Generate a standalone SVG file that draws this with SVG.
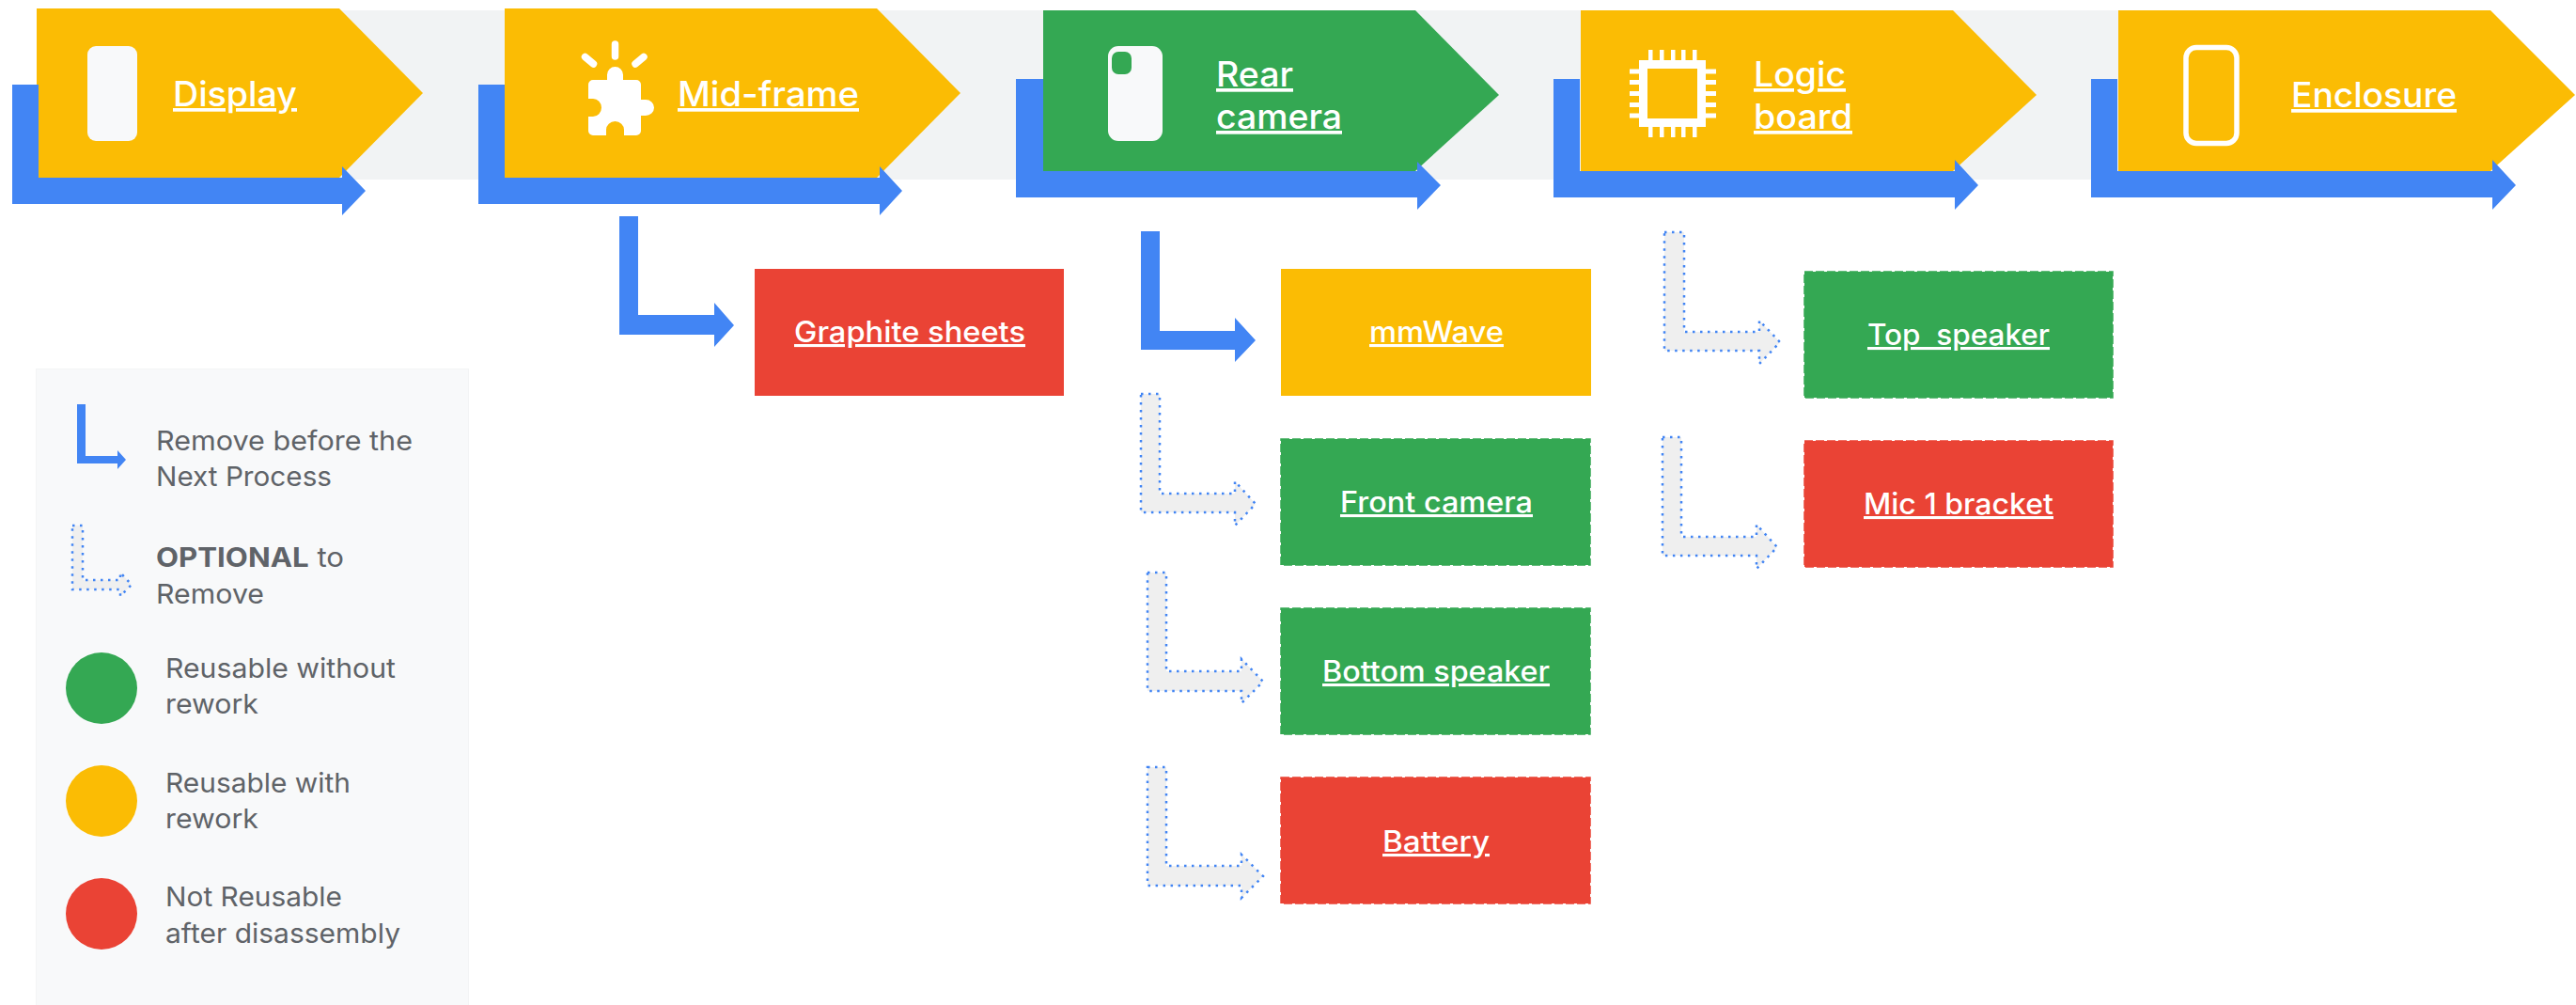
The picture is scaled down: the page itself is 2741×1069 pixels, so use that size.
<svg xmlns="http://www.w3.org/2000/svg" width="2741" height="1069" viewBox="0 0 2741 1069">
<style>
text{font-family:"Inter","Noto Sans","Liberation Sans",sans-serif}
.lbl{fill:#fff;font-weight:500;text-decoration:underline;text-decoration-thickness:3px;text-underline-offset:3px;text-decoration-skip-ink:none}
.big{font-size:37px}
.mid{font-size:31px}
.leg{fill:#5f6368;font-size:29px;font-weight:400}
.y{fill:#fbbc04}.g{fill:#34a853}.r{fill:#ea4335}
.solid{fill:#4285f4}
.opt{fill:#efefef;stroke:#4285f4;stroke-width:2.500;stroke-dasharray:2.500 5.500}
.dg{stroke:#34a853;stroke-width:1.500;stroke-dasharray:9 3}
.dr{stroke:#ea4335;stroke-width:1.500;stroke-dasharray:9 3}
.w{fill:#fff}
</style>
<rect id="band" x="39" y="11" width="2300" height="180" fill="#f1f3f4"/>
<g id="node-display">
<polygon class="y" points="39,9 361,9 450,99 361,189 39,189"/>
<rect x="93" y="49" width="53" height="101" rx="9" fill="#f8f9fa"/>
<text class="lbl big" x="184" y="113" textLength="132" lengthAdjust="spacingAndGlyphs">Display</text>
</g>
<g id="node-midframe">
<polygon class="y" points="537,9 933,9 1022,99 933,189 537,189"/>
<path class="w" d="M626,90 a5,5 0 0 1 5,-5 H646 V79.500 a8.500,8.500 0 0 1 17,0 V85 H677 a5,5 0 0 1 5,5 V106 H687 a9,8.500 0 0 1 0,17 H682 V139 a5,5 0 0 1 -5,5 H664 V138 a9.500,9 0 0 0 -19,0 V144 H631 a5,5 0 0 1 -5,-5 V124 H631 a9,9.500 0 0 0 0,-19 H626 Z"/>
<path d="M654.500,47 V60 M622.500,60.500 L631.500,68 M685,60.500 L676,68" stroke="#fff" stroke-width="7.500" stroke-linecap="round" fill="none"/>
<text class="lbl big" x="721" y="113" textLength="193" lengthAdjust="spacingAndGlyphs">Mid-frame</text>
</g>
<g id="node-rear-camera">
<polygon class="g" points="1110,11 1506,11 1595,101 1506,182 1110,182"/>
<rect x="1179" y="49" width="58" height="101" rx="11" fill="#f8f9fa"/>
<rect x="1183" y="55" width="21" height="24" rx="7" class="g"/>
<text class="lbl big" x="1294" y="92" textLength="82" lengthAdjust="spacingAndGlyphs">Rear</text>
<text class="lbl big" x="1294" y="137" textLength="134" lengthAdjust="spacingAndGlyphs">camera</text>
</g>
<g id="node-logic-board">
<polygon class="y" points="1682,11 2078,11 2167,101 2078,182 1682,182"/>
<path class="w" fill-rule="evenodd" d="M1744,64 H1815 V135 H1744 Z M1753,73 V126 H1806 V73 Z"/>
<path class="w" d="M1754,53h4.500v11h-4.500z M1766,53h4.500v11h-4.500z M1778,53h4.500v11h-4.500z M1789,53h4.500v11h-4.500z M1801,53h4.500v11h-4.500z M1754,135h4.500v11h-4.500z M1766,135h4.500v11h-4.500z M1778,135h4.500v11h-4.500z M1789,135h4.500v11h-4.500z M1801,135h4.500v11h-4.500z M1734,73.500h10v5h-10z M1734,85h10v5h-10z M1734,97h10v5h-10z M1734,109h10v5h-10z M1734,120.500h10v5h-10z M1815,73.500h11v5h-11z M1815,85h11v5h-11z M1815,97h11v5h-11z M1815,109h11v5h-11z M1815,120.500h11v5h-11z"/>
<text class="lbl big" x="1866" y="92" textLength="98" lengthAdjust="spacingAndGlyphs">Logic</text>
<text class="lbl big" x="1866" y="137" textLength="105" lengthAdjust="spacingAndGlyphs">board</text>
</g>
<g id="node-enclosure">
<polygon class="y" points="2254,11 2650,11 2740,101 2650,182 2254,182"/>
<rect x="2326" y="50.500" width="54" height="102" rx="11" fill="none" stroke="#fff" stroke-width="5.500"/>
<text class="lbl big" x="2438" y="114" textLength="176" lengthAdjust="spacingAndGlyphs">Enclosure</text>
</g>
<g id="node-graphite">
<rect class="r" x="803" y="286" width="329" height="135"/>
<text class="lbl mid" x="845" y="364" textLength="246" lengthAdjust="spacingAndGlyphs">Graphite sheets</text>
</g>
<g id="node-mmwave">
<rect class="y" x="1363" y="286" width="330" height="135"/>
<text class="lbl mid" x="1457" y="364" textLength="143" lengthAdjust="spacingAndGlyphs">mmWave</text>
</g>
<g id="node-front-camera">
<rect class="g dg" x="1363" y="467" width="329" height="134"/>
<text class="lbl mid" x="1426" y="545" textLength="205" lengthAdjust="spacingAndGlyphs">Front camera</text>
</g>
<g id="node-bottom-speaker">
<rect class="g dg" x="1363" y="647" width="329" height="134"/>
<text class="lbl mid" x="1407" y="725" textLength="242" lengthAdjust="spacingAndGlyphs">Bottom speaker</text>
</g>
<g id="node-battery">
<rect class="r dr" x="1363" y="827" width="329" height="134"/>
<text class="lbl mid" x="1471" y="906" textLength="114" lengthAdjust="spacingAndGlyphs">Battery</text>
</g>
<g id="node-top-speaker">
<rect class="g dg" x="1920" y="289" width="328" height="134"/>
<text class="lbl mid" x="1987" y="367" textLength="194" lengthAdjust="spacingAndGlyphs" xml:space="preserve">Top  speaker</text>
</g>
<g id="node-mic">
<rect class="r dr" x="1920" y="469" width="328" height="134"/>
<text class="lbl mid" x="1983" y="547" textLength="202" lengthAdjust="spacingAndGlyphs">Mic 1 bracket</text>
</g>
<g id="connectors">
<polygon class="solid" points="13,90 41,90 41,189 364,189 364,177 389,203 364,229 364,217 13,217"/>
<polygon class="solid" points="509,90 537,90 537,189 936,189 936,177 960,203 936,229 936,217 509,217"/>
<polygon class="solid" points="1081,84 1110,84 1110,182 1508,182 1508,172 1533,197 1508,223 1508,210 1081,210"/>
<polygon class="solid" points="1653,84 1681,84 1681,182 2080,182 2080,170 2105,197 2080,223 2080,210 1653,210"/>
<polygon class="solid" points="2225,84 2253,84 2253,182 2652,182 2652,170 2677,197 2652,223 2652,210 2225,210"/>
<polygon class="solid" points="659,230 679,230 679,335 760,335 760,322 781,346 760,369 760,356 659,356"/>
<polygon class="solid" points="1214,246 1234,246 1234,352 1314,352 1314,338 1336,362 1314,385 1314,372 1214,372"/>
<polygon class="opt" points="1214,419 1234,419 1234,525 1314,525 1314,512 1336,536 1314,559 1314,545 1214,545"/>
<polygon class="opt" points="1221,609 1241,609 1241,714 1321,714 1321,701 1344,725 1321,748 1321,735 1221,735"/>
<polygon class="opt" points="1221,816 1241,816 1241,921 1321,921 1321,909 1344,932 1321,955 1321,942 1221,942"/>
<polygon class="opt" points="1771,247 1792,247 1792,353 1872,353 1872,341 1894,364 1872,387 1872,373 1771,373"/>
<polygon class="opt" points="1769,465 1789,465 1789,571 1869,571 1869,558 1891,582 1869,605 1869,591 1769,591"/>
</g>
<g id="legend">
<rect x="38.500" y="392.500" width="460" height="690" fill="#f8f9fa" stroke="#f3f4f5"/>
<polygon class="solid" points="82,430 91,430 91,485 125,485 125,479 134,489 125,499 125,493 82,493"/>
<polygon class="opt" points="77,559 88,559 88,617 128,617 128,609 140,622 128,634 128,627 77,627"/>
<text class="leg" x="166" y="479" textLength="273" lengthAdjust="spacingAndGlyphs">Remove before the</text>
<text class="leg" x="166" y="517" textLength="187" lengthAdjust="spacingAndGlyphs">Next Process</text>
<text class="leg" x="166" y="603" textLength="200" lengthAdjust="spacingAndGlyphs"><tspan font-weight="700">OPTIONAL</tspan> to</text>
<text class="leg" x="166" y="642" textLength="115" lengthAdjust="spacingAndGlyphs">Remove</text>
<circle class="g" cx="108" cy="732" r="38"/>
<text class="leg" x="176" y="721" textLength="245" lengthAdjust="spacingAndGlyphs">Reusable without</text>
<text class="leg" x="176" y="759" textLength="99" lengthAdjust="spacingAndGlyphs">rework</text>
<circle class="y" cx="108" cy="852" r="38"/>
<text class="leg" x="176" y="843" textLength="197" lengthAdjust="spacingAndGlyphs">Reusable with</text>
<text class="leg" x="176" y="881" textLength="99" lengthAdjust="spacingAndGlyphs">rework</text>
<circle class="r" cx="108" cy="972" r="38"/>
<text class="leg" x="176" y="964" textLength="188" lengthAdjust="spacingAndGlyphs">Not Reusable</text>
<text class="leg" x="176" y="1003" textLength="250" lengthAdjust="spacingAndGlyphs">after disassembly</text>
</g>
</svg>
